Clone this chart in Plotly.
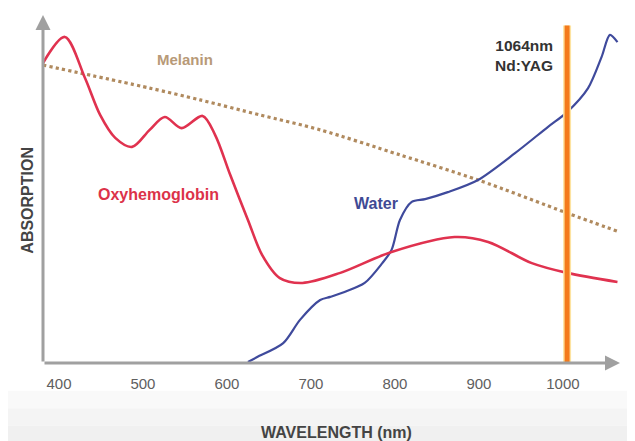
import plotly.graph_objects as go

# --- data ---
oxy_nm = [381, 407, 431, 449, 467, 487, 508, 526, 546, 571, 586, 604, 625, 642, 663, 690, 735, 796, 871, 911, 963, 1005, 1065]
oxy_abs = [86.2, 93.7, 81.9, 71.3, 64.7, 62.1, 67.0, 70.7, 67.5, 71.0, 65.5, 54.0, 41.1, 31.0, 24.4, 23.0, 25.9, 31.9, 36.2, 34.8, 28.7, 25.9, 23.3]

mel_nm = [381, 508, 568, 639, 711, 806, 899, 1005, 1068]
mel_abs = [85.6, 79.0, 75.6, 71.3, 67.0, 59.8, 52.6, 43.1, 37.6]

water_nm = [625, 636, 667, 687, 711, 723, 740, 764, 785, 796, 806, 820, 836, 863, 899, 943, 982, 1005, 1030, 1046, 1056, 1065]
water_abs = [0.3, 1.7, 5.7, 12.4, 18.1, 19.0, 20.4, 23.0, 28.7, 32.5, 41.1, 46.3, 47.1, 49.1, 52.6, 60.3, 67.8, 72.1, 79.0, 87.9, 94.3, 92.2]

laser_nm = [1005, 1005]
laser_abs = [0, 97]

x_ticks = [400, 500, 600, 700, 800, 900, 1000]

X0, X1 = 381, 1068
Y0, Y1 = 0, 100

fig = go.Figure()

# background bands (light grey toward bottom)
bands = [(-0.08, -0.13, "#f9f9f9"), (-0.13, -0.18, "#f4f4f4"), (-0.18, -0.23, "#f0f0f0"), (-0.23, -0.3, "#ececec")]
for top, bot, g in bands:
    fig.add_shape(type="rect", xref="paper", yref="paper",
                  x0=-0.1, x1=1.1, y0=bot, y1=top,
                  fillcolor=g, line_width=0, layer="below")

fig.add_trace(go.Scatter(x=mel_nm, y=mel_abs, mode="lines",
                         line=dict(color="#b08a5e", width=3.2, dash="dot", shape="spline", smoothing=0.8),
                         hoverinfo="skip", cliponaxis=False))
fig.add_trace(go.Scatter(x=water_nm, y=water_abs, mode="lines",
                         line=dict(color="#3f4a9c", width=2.2, shape="spline", smoothing=0.8),
                         hoverinfo="skip", cliponaxis=False))
fig.add_trace(go.Scatter(x=oxy_nm, y=oxy_abs, mode="lines",
                         line=dict(color="#e0324f", width=2.6, shape="spline", smoothing=0.9),
                         hoverinfo="skip", cliponaxis=False))
fig.add_trace(go.Scatter(x=laser_nm, y=laser_abs, mode="lines",
                         line=dict(color="#fde3a0", width=8),
                         hoverinfo="skip", cliponaxis=False))
fig.add_trace(go.Scatter(x=laser_nm, y=laser_abs, mode="lines",
                         line=dict(color="#f47a1c", width=5),
                         hoverinfo="skip", cliponaxis=False))

# axes with arrows
fig.add_annotation(x=X1, y=Y0, ax=X0, ay=Y0, xref="x", yref="y", axref="x", ayref="y",
                   showarrow=True, arrowhead=2, arrowsize=1, arrowwidth=3, arrowcolor="#a0a0a0", text="")
fig.add_annotation(x=X0, y=Y1, ax=X0, ay=Y0, xref="x", yref="y", axref="x", ayref="y",
                   showarrow=True, arrowhead=2, arrowsize=1, arrowwidth=3, arrowcolor="#a0a0a0", text="")

bold = "Liberation Sans"
fig.add_annotation(x=550, y=87.1, text="<b>Melanin</b>", showarrow=False,
                   font=dict(family=bold, size=15, color="#b89a78"))
fig.add_annotation(x=518, y=48.3, text="<b>Oxyhemoglobin</b>", showarrow=False,
                   font=dict(family=bold, size=16, color="#dc3249"))
fig.add_annotation(x=777, y=45.7, text="<b>Water</b>", showarrow=False,
                   font=dict(family=bold, size=16, color="#3f4a94"))
fig.add_annotation(x=991, y=88.4, text="<b>1064nm<br>Nd:YAG</b>", showarrow=False,
                   xanchor="right", align="right",
                   font=dict(family=bold, size=15.5, color="#333333"))
fig.add_annotation(xref="paper", yref="paper", x=0.508, y=-0.23, text="<b>WAVELENGTH (nm)</b>",
                   showarrow=False, font=dict(family=bold, size=16, color="#444444"))
fig.add_annotation(xref="paper", yref="paper", x=-0.045, y=0.468, text="<b>ABSORPTION</b>", textangle=-90,
                   showarrow=False, font=dict(family=bold, size=16, color="#444444"))

fig.update_xaxes(range=[X0, X1], tickvals=x_ticks, ticktext=[str(t) for t in x_ticks],
                 showgrid=False, zeroline=False, showline=False, ticks="", automargin=False,
                 ticklabelstandoff=10,
                 tickfont=dict(family="Liberation Sans", size=15, color="#606060"))
fig.update_yaxes(range=[Y0, Y1], showgrid=False, zeroline=False, showline=False,
                 showticklabels=False, ticks="", automargin=False)

fig.update_layout(width=627, height=433, margin=dict(l=35, r=15, t=7, b=78),
                  paper_bgcolor="#ffffff", plot_bgcolor="rgba(0,0,0,0)", showlegend=False)

fig.write_html("out.html")
